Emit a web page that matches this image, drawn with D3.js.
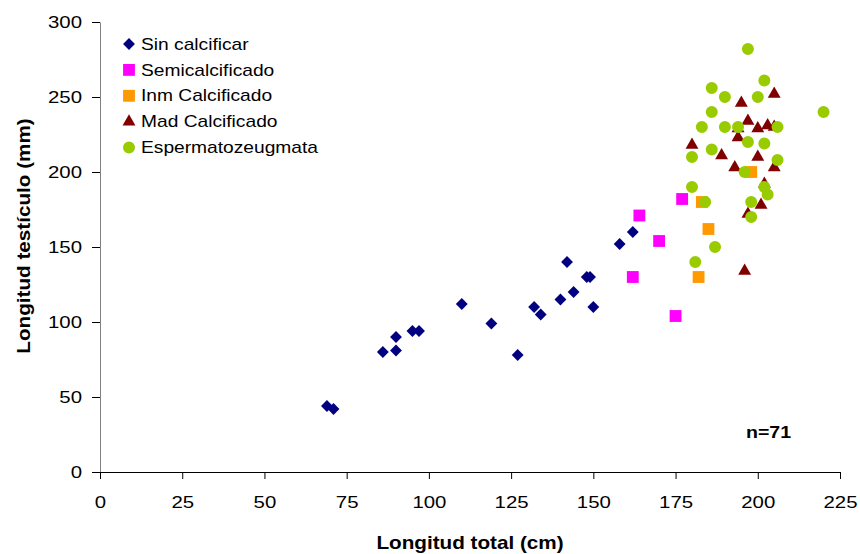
<!DOCTYPE html>
<html>
<head>
<meta charset="utf-8">
<script src="https://cdn.jsdelivr.net/npm/d3@7"></script>
<style>
  body { margin: 0; background: #fff; }
  svg text { font-family: Arial, "Liberation Sans", sans-serif; fill: #000; }
</style>
</head>
<body>
<div id="chart"></div>
<script>
// series: [longitud total (cm), longitud testiculo (mm)]
const sinCalcificar = [
  [69, 44], [71, 42], [86, 80], [90, 81], [90, 90], [95, 94], [97, 94],
  [110, 112], [119, 99], [127, 78], [132, 110], [134, 105], [140, 115],
  [142, 140], [144, 120], [148, 130], [149, 130], [150, 110], [158, 152], [162, 160]
];
const semicalcificado = [[164, 171], [170, 154], [162, 130], [177, 182], [175, 104]];
const inmCalcificado = [[183, 180], [185, 162], [182, 130], [198, 200]];
const madCalcificado = [
  [180, 218], [189, 211], [193, 203], [194, 223], [194, 229], [195, 246],
  [197, 234], [200, 229], [200, 210], [203, 231], [205, 252], [205, 230],
  [205, 203], [202, 192], [201, 178], [197, 172], [196, 134]
];
const espermatozeugmata = [
  [197, 282], [202, 261], [186, 256], [190, 250], [200, 250], [186, 240],
  [220, 240], [183, 230], [190, 230], [194, 230], [206, 230], [197, 220],
  [202, 219], [186, 215], [180, 210], [206, 208], [196, 200], [180, 190],
  [202, 190], [203, 185], [184, 180], [198, 180], [198, 170], [187, 150], [181, 140]
];

const xTicks = [0, 25, 50, 75, 100, 125, 150, 175, 200, 225];
const yTicks = [0, 50, 100, 150, 200, 250, 300];

const series = [
  { name: "Sin calcificar", data: sinCalcificar, color: "#000080", shape: "diamond" },
  { name: "Semicalcificado", data: semicalcificado, color: "#FF00FF", shape: "square" },
  { name: "Inm Calcificado", data: inmCalcificado, color: "#FF9900", shape: "square" },
  { name: "Mad Calcificado", data: madCalcificado, color: "#800000", shape: "triangle" },
  { name: "Espermatozeugmata", data: espermatozeugmata, color: "#99CC00", shape: "circle" }
];

const W = 860, H = 554;
const plotLeft = 100, plotRight = 840, plotTop = 22, plotBottom = 472;
const stretch = "scale(1.2,1)";

const svg = d3.select("#chart").append("svg")
  .attr("width", W)
  .attr("height", H);

const x = d3.scaleLinear().domain([0, 225]).range([plotLeft, plotRight]);
const y = d3.scaleLinear().domain([0, 300]).range([plotBottom, plotTop]);

function symbolPath(shape) {
  if (shape === "diamond") return d3.symbol(d3.symbolSquare, 70)();
  if (shape === "square") return d3.symbol(d3.symbolSquare, 140)();
  if (shape === "triangle") return d3.symbol(d3.symbolTriangle, 72)();
  return d3.symbol(d3.symbolCircle, 113)();
}

function markerTransform(shape, cx, cy) {
  let t = `translate(${cx},${cy})`;
  if (shape === "diamond") t += " rotate(45)";
  return t;
}

// axes
const yAxis = svg.append("g")
  .attr("transform", `translate(${plotLeft},0)`)
  .call(d3.axisLeft(y).tickValues(yTicks).tickSize(8).tickPadding(7).tickSizeOuter(0));
yAxis.select(".domain").attr("stroke", "#808080");
yAxis.selectAll(".tick line").attr("stroke", "#000");
yAxis.selectAll("text")
  .style("font-size", "17px")
  .attr("transform", stretch);

const xAxis = svg.append("g")
  .attr("transform", `translate(0,${plotBottom})`)
  .call(d3.axisBottom(x).tickValues(xTicks).tickSize(7).tickPadding(17).tickSizeOuter(0));
xAxis.select(".domain").attr("stroke", "#000");
xAxis.selectAll("text")
  .style("font-size", "17px")
  .attr("transform", stretch);

// points
series.forEach(s => {
  svg.append("g")
    .selectAll("path")
    .data(s.data)
    .enter()
    .append("path")
    .attr("d", symbolPath(s.shape))
    .attr("transform", d => markerTransform(s.shape, x(d[0]), y(d[1])))
    .attr("fill", s.color);
});

// legend
const legend = svg.append("g").attr("transform", "translate(129,44)");
series.forEach((s, i) => {
  const row = legend.append("g").attr("transform", `translate(0,${i * 25.9})`);
  row.append("path")
    .attr("d", symbolPath(s.shape))
    .attr("transform", markerTransform(s.shape, 0, 0))
    .attr("fill", s.color);
  row.append("text")
    .attr("transform", `translate(12,0) ${stretch}`)
    .attr("dy", "0.35em")
    .style("font-size", "16px")
    .text(s.name);
});

// titles
svg.append("text")
  .attr("transform", `translate(470,549) scale(1.15,1)`)
  .attr("text-anchor", "middle")
  .style("font-size", "18px")
  .style("font-weight", "bold")
  .text("Longitud total (cm)");

svg.append("text")
  .attr("transform", `translate(30,236) rotate(-90) scale(1.15,1)`)
  .attr("text-anchor", "middle")
  .style("font-size", "18px")
  .style("font-weight", "bold")
  .text("Longitud testículo (mm)");

svg.append("text")
  .attr("transform", `translate(746,438) scale(1.15,1)`)
  .style("font-size", "17px")
  .style("font-weight", "bold")
  .text("n=71");
</script>
</body>
</html>
